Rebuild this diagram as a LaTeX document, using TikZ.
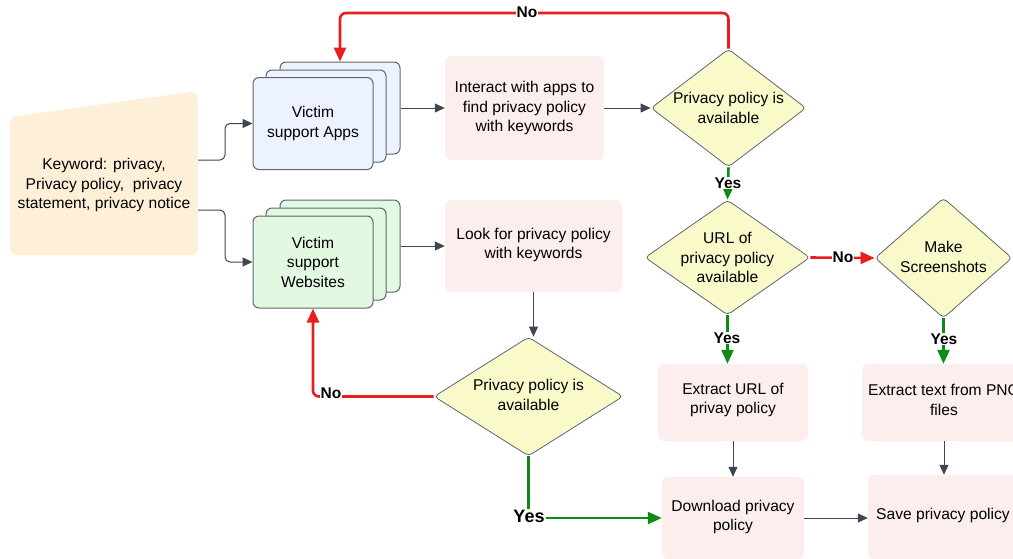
\documentclass[tikz,border=0pt]{standalone}
\usepackage{fontspec}
\setmainfont{Liberation Sans}
\usetikzlibrary{arrows.meta,shapes.geometric}
\definecolor{kwfill}{HTML}{FEF0D8}
\definecolor{appfill}{HTML}{EDF3FE}
\definecolor{webfill}{HTML}{E2F8E1}
\definecolor{pinkfill}{HTML}{FDEEEE}
\definecolor{diafill}{HTML}{F9F9C9}
\definecolor{strk}{HTML}{5E6572}
\definecolor{arr}{HTML}{3F4551}
\definecolor{nored}{HTML}{E81E1E}
\definecolor{yesgreen}{HTML}{0E8A16}
\begin{document}
\begin{tikzpicture}[x=1pt,y=-1pt,
  txt/.style={font=\fontsize{15.6}{19.5}\selectfont, align=center, text=black},
  stk/.style={draw=strk, line width=1pt, rounded corners=6pt, minimum width=120pt, minimum height=92pt, inner sep=0pt},
  pbox/.style={fill=pinkfill, rounded corners=6pt, inner sep=0pt},
  dia/.style={diamond, draw=strk, line width=0.8pt, fill=diafill, rounded corners=4pt, inner sep=0pt},
  garrow/.style={draw=arr, line width=1pt, -{Triangle[length=10pt,width=9pt]}},
  redarrow/.style={draw=nored, line width=2.6pt, -{Triangle[length=14pt,width=12pt]}},
  grnarrow/.style={draw=yesgreen, line width=2.6pt, -{Triangle[length=14pt,width=12pt]}},
  lbl/.style={font=\fontsize{15.5}{17}\selectfont\bfseries, fill=white, inner sep=1pt, text=black}
]
\useasboundingbox (0,0) rectangle (1013,558);
\clip (0,0) rectangle (1013,558);

% keyword manual-input shape
\fill[kwfill, rounded corners=7pt] (10,117) -- (198,91) -- (198,255) -- (10,255) -- cycle;
\node[txt] (kw) at (104,185) {Keyword: privacy,\\Privacy policy,\ \ privacy\\statement, privacy notice};
\coordinate (kwa) at (198,160);
\coordinate (kwb) at (198,210);

% apps stack
\node[stk, fill=appfill] (apps3) at (340,108) {};
\node[stk, fill=appfill] (apps2) at (326,116) {};
\node[stk, fill=appfill] (apps1) at (313,123.5) {};
\node[txt] at (apps1) {Victim\\support Apps};

% websites stack
\node[stk, fill=webfill] (web3) at (340,246) {};
\node[stk, fill=webfill] (web2) at (326,254) {};
\node[stk, fill=webfill] (web1) at (313,262) {};
\node[txt] at (web1) {Victim\\support\\Websites};

% process boxes
\node[pbox, minimum width=159pt, minimum height=104pt] (int) at (524.5,108) {};
\node[txt] at (int) {Interact with apps to\\find privacy policy\\with keywords};
\node[pbox, minimum width=177pt, minimum height=92pt] (look) at (533.5,246) {};
\node[txt] at (533.5,245) {Look for privacy policy\\with keywords};
\node[pbox, minimum width=150pt, minimum height=77pt] (exu) at (733,402.5) {};
\node[txt] at (733,400) {Extract URL of\\privay policy};
\node[pbox, minimum width=164pt, minimum height=77pt] (ext) at (944,402.5) {};
\node[txt] at (944,400) {Extract text from PNG\\files};
\node[pbox, minimum width=142pt, minimum height=82pt] (dl) at (733,518) {};
\node[txt] at (733,517) {Download privacy\\policy};
\node[pbox, minimum width=160pt, minimum height=84pt] (save) at (948,517) {};
\node[txt] at (943,515) {Save privacy policy};

% decisions
\node[dia, minimum width=155pt, minimum height=118pt] (d1) at (728.5,108) {};
\node[txt] at (d1) {Privacy policy is\\available};
\node[dia, minimum width=165pt, minimum height=115pt] (d2) at (727.5,257.5) {};
\node[txt] at (d2) {URL of\\privacy policy\\available};
\node[dia, minimum width=137pt, minimum height=120pt] (d3) at (943.5,258) {};
\node[txt] at (943.5,257) {Make\\Screenshots};
\node[dia, minimum width=189pt, minimum height=119pt] (d4) at (528.5,396.5) {};
\node[txt] at (528.5,395) {Privacy policy is\\available};

% grey connectors
\draw[garrow, rounded corners=5pt] (kwa) -- ++(27,0) |- (apps1.west);
\draw[garrow, rounded corners=5pt] (kwb) -- ++(27,0) |- (web1.west);
\draw[garrow] (apps3.east) -- (int.west);
\draw[garrow] (int.east) -- (d1.west);
\draw[garrow] (web3.east) -- (web3.east -| look.west);
\draw[garrow] (look.south) -- (look.south |- d4.north);
\draw[garrow] (exu.south) -- (dl.north);
\draw[garrow] (ext.south) -- (ext.south |- save.north);
\draw[garrow] (dl.east) -- (dl.east -| save.west);

% red "No" connectors
\draw[redarrow, rounded corners=6pt] (d1.north) -- (728.5,13) -- (340,13) -- (apps3.north);
\node[lbl] at (527,12) {No};
\draw[redarrow] (d2.east) -- (d3.west);
\node[lbl] at (843,257) {No};
\draw[redarrow, rounded corners=6pt] (d4.west) -| (web1.south);
\node[lbl] at (331,393) {No};

% green "Yes" connectors
\draw[grnarrow] (d1.south) -- (d2.north);
\node[lbl] at (728,183) {Yes};
\draw[grnarrow] (d2.south) -- (d2.south |- exu.north);
\node[lbl] at (727,338) {Yes};
\draw[grnarrow] (d3.south) -- (d3.south |- ext.north);
\node[lbl] at (944,339) {Yes};
\draw[grnarrow] (d4.south) |- (dl.west);
\node[lbl, font=\fontsize{18}{20}\selectfont\bfseries] at (529,516) {Yes};
\end{tikzpicture}
\end{document}
